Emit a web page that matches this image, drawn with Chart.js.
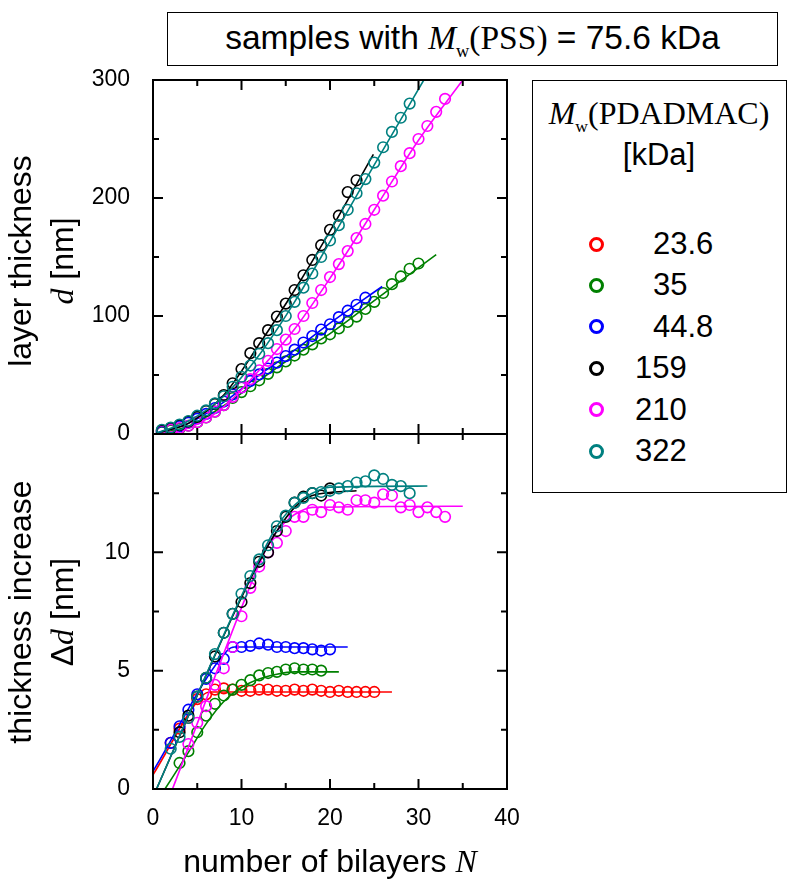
<!DOCTYPE html>
<html>
<head>
<meta charset="utf-8">
<script src="https://cdn.jsdelivr.net/npm/chart.js@4.4.0/dist/chart.umd.min.js"></script>
<style>
  html, body { margin: 0; padding: 0; background: #fff; }
  #wrap { position: relative; width: 789px; height: 886px; overflow: hidden;
          font-family: "Liberation Sans", Arial, sans-serif; color: #000; }
  canvas { position: absolute; left: 0; top: 0; }
  .box { position: absolute; border: 1.5px solid #000; box-sizing: border-box; background: #fff; z-index: 2; }
  .serif { font-family: "Liberation Serif", "Times New Roman", serif; }
  .sub { font-size: 0.55em; position: relative; top: 0.45em; }
  .ytitle { position: absolute; width: 320px; height: 84px; line-height: 42px; font-size: 32px;
            text-align: center; white-space: nowrap; transform: rotate(-90deg); z-index: 2; }
  .txt { position: absolute; white-space: nowrap; z-index: 2; }
  .dot { position: absolute; width: 9px; height: 9px; border-radius: 50%; border: 3px solid; }
</style>
</head>
<body>
<div id="wrap">
  <canvas id="top" width="789" height="886"></canvas>
  <canvas id="bottom" width="789" height="886"></canvas>

  <div class="box" style="left:167px; top:12px; width:611px; height:54px; font-size:33.5px; line-height:50px; text-align:center;">
    samples with <span class="serif"><i>M</i><span class="sub">w</span>(PSS)</span> = 75.6 kDa
  </div>

  <div class="ytitle" style="left:-119px; top:219px;">layer thickness<br><i class="serif">d</i> [nm]</div>
  <div class="ytitle" style="left:-119px; top:570px;">thickness increase<br>&Delta;<i class="serif">d</i> [nm]</div>
  <div class="txt" style="left:130px; top:843px; width:400px; text-align:center; font-size:32px;">number of bilayers <i class="serif">N</i></div>

  <div class="box" id="legend" style="left:532px; top:80px; width:255px; height:413px;"></div>
</div>

<script>
// ---- data ----
// legend: Mw(PDADMAC) in kDa
var sampleLabels = ['23.6', '35', '44.8', '159', '210', '322'];
var sampleColors = ['#ff0000', '#008000', '#0000ff', '#000000', '#ff00ff', '#008080'];

// top panel: layer thickness d [nm], first point at N = 1
var dGreen   = [1.5, 3, 4.5, 7, 10, 14, 19, 24.5, 30.5, 35.5, 40.5, 45.5, 51, 56.5, 61.5, 66.5, 71.5, 76, 81, 84.5, 89.5, 95, 99.5, 106, 112, 119.5, 127, 133.5, 140, 144.5];
var dBlue    = [2, 4, 6.5, 9.5, 13, 17, 22, 27.5, 33.5, 39.5, 45, 50.5, 55.5, 60.5, 66, 71.5, 77.5, 83, 88.5, 93, 99, 104.5, 109.5, 115.5];
var dBlack   = [3, 5, 7.5, 10.5, 14.5, 19.5, 25.5, 33, 43, 55, 68.5, 77, 88, 99.5, 110.5, 122, 134.5, 147.5, 160, 173, 185, 205, 215];
var dMagenta = [2.5, 3.5, 5, 7, 10, 14, 19, 24.5, 31.5, 39.5, 46.5, 54, 62, 72, 80, 89, 100, 111, 122, 133, 144, 155, 166, 178, 190, 202, 214, 227, 238, 250, 261, 273, 284];
var dCyan    = [3.5, 5.5, 8, 11, 15.5, 20, 26, 32, 40, 48.5, 58, 68, 77, 88, 100, 112, 124, 136, 150, 164, 177, 190, 204, 216, 230, 243, 256, 268, 280];

// top panel fit curves
var fitTopGreenN   = [0.5, 4, 8, 12, 16, 20, 25, 32];
var fitTopGreenD   = [0.5, 6.5, 24, 45.5, 66.5, 85, 113, 152];
var fitTopBlueN    = [0.5, 4, 8, 12, 16, 20, 25.9];
var fitTopBlueD    = [1, 9, 27, 50, 71, 94, 125];
var fitTopBlackN   = [1, 4, 8, 12, 16, 20, 24.9];
var fitTopBlackD   = [2, 9, 33, 76, 122, 172, 237];
var fitTopMagentaN = [1, 4, 8, 12, 16, 20, 25, 30, 35];
var fitTopMagentaD = [0.5, 5, 23, 54, 89, 132, 190, 249, 300];
var fitTopCyanN    = [0.5, 4, 8, 12, 16, 20, 25, 30.6];
var fitTopCyanD    = [1, 11, 32, 67, 112, 163, 228, 300];

// bottom panel: thickness increase Δd [nm], first N given separately
var ddRed     = [1.95, 2.55, 3.0, 3.8, 4.0, 4.2, 4.25, 4.2, 4.15, 4.15, 4.2, 4.2, 4.15, 4.15, 4.2, 4.15, 4.2, 4.15, 4.1, 4.15, 4.1, 4.1, 4.1, 4.1];
var ddGreen   = [1.1, 1.6, 2.4, 3.1, 3.6, 3.95, 4.2, 4.4, 4.6, 4.8, 4.9, 4.95, 5.05, 5.1, 5.05, 5.05, 5.0];
var ddBlue    = [1.95, 2.65, 3.35, 4.0, 4.65, 5.1, 5.5, 6.0, 6.0, 6.05, 6.15, 6.1, 6.0, 6.0, 5.95, 5.95, 5.9, 5.85, 5.9];
var ddBlack   = [2.4, 3.1, 3.9, 4.7, 5.6, 6.6, 7.4, 7.9, 8.7, 9.6, 10.0, 10.9, 11.5, 12.1, 12.35, 12.5, 12.4, 12.7];
var ddMagenta = [1.9, 2.8, 3.5, 4.4, 5.1, 6.0, 7.3, 8.5, 9.4, 10.0, 10.4, 10.9, 11.5, 11.5, 11.8, 11.7, 12.0, 11.9, 11.8, 12.2, 12.2, 12.1, 12.45, 12.4, 11.9, 12.0, 11.7, 11.9, 11.7, 11.5];
var ddCyan    = [1.7, 2.2, 3.0, 3.9, 4.7, 5.7, 6.6, 7.4, 8.25, 9.0, 9.7, 10.3, 11.1, 11.55, 12.1, 12.3, 12.5, 12.55, 12.6, 12.7, 12.8, 12.95, 13.0, 13.25, 13.1, 12.85, 12.8, 12.5];
var ddFirstN  = [2, 3, 2, 3, 4, 2];   // red, green, blue, black, magenta, cyan

// bottom panel fit curves
var fitBotRedN     = [0, 5.6, 6.5, 27];
var fitBotRedD     = [0.6, 3.95, 4.1, 4.1];
var fitBotGreenN   = [1.35, 4, 6, 8, 10, 12, 14, 16, 21];
var fitBotGreenD   = [0, 1.55, 2.75, 3.7, 4.3, 4.65, 4.85, 4.95, 4.95];
var fitBotBlueN    = [0, 8.4, 9.2, 22];
var fitBotBlueD    = [0.75, 5.85, 6.0, 6.0];
var fitBotBlackN   = [0.4, 9, 12, 14, 16, 18, 23];
var fitBotBlackD   = [0, 7.3, 9.6, 10.9, 11.9, 12.4, 12.6];
var fitBotMagentaN = [2.2, 12, 13, 14, 15, 16, 18, 35];
var fitBotMagentaD = [0, 9.5, 10.3, 10.9, 11.3, 11.6, 11.9, 11.95];
var fitBotCyanN    = [0.4, 9, 12, 14, 16, 18, 20, 31];
var fitBotCyanD    = [0, 7.35, 9.7, 11.1, 12.0, 12.5, 12.75, 12.8];

var xTickLabels = [0, 10, 20, 30, 40];
var topTickLabels = [0, 100, 200, 300];
var bottomTickLabels = [0, 5, 10];

// ---- helpers ----
function series(first, values) {
  return values.map(function (v, i) { return {x: first + i, y: v}; });
}
function pairs(xs, ys) {
  return xs.map(function (x, i) { return {x: x, y: ys[i]}; });
}
function pts(data, color) {
  return {data: data, showLine: false, pointRadius: 5.3, pointBorderWidth: 1.6,
          pointBorderColor: color, pointBackgroundColor: 'rgba(0,0,0,0)'};
}
function fit(data, color) {
  return {data: data, showLine: true, pointRadius: 0, borderColor: color, borderWidth: 1.6,
          cubicInterpolationMode: 'monotone', fill: false};
}

// frame with inward ticks on all four sides
var frame = {
  id: 'frame',
  afterDraw: function (chart, args, opts) {
    var ctx = chart.ctx, a = chart.chartArea, x = chart.scales.x, y = chart.scales.y;
    ctx.save();
    ctx.strokeStyle = '#000';
    ctx.lineWidth = 2;
    ctx.strokeRect(a.left, a.top, a.right - a.left, a.bottom - a.top);
    ctx.beginPath();
    for (var v = 5; v < 40; v += 5) {
      var px = x.getPixelForValue(v), len = v % 10 ? 6 : 10;
      ctx.moveTo(px, a.bottom); ctx.lineTo(px, a.bottom - len);
      ctx.moveTo(px, a.top); ctx.lineTo(px, a.top + len);
    }
    for (var w = opts.minor; w < y.max; w += opts.minor) {
      var py = y.getPixelForValue(w), l = (w % opts.major) ? 6 : 10;
      ctx.moveTo(a.left, py); ctx.lineTo(a.left + l, py);
      ctx.moveTo(a.right, py); ctx.lineTo(a.right - l, py);
    }
    ctx.stroke();
    ctx.restore();
  }
};

var tickFont = {family: '"Liberation Sans", Arial, sans-serif', size: 23};

function yScale(max, step, labels) {
  return {
    min: 0, max: max,
    grid: {display: false}, border: {display: false},
    ticks: {stepSize: step, padding: 15, color: '#000', font: tickFont,
            callback: function (v) { return labels.indexOf(v) >= 0 ? String(v) : ''; }},
    afterFit: function (s) { s.width = 153; }
  };
}

// ---- top panel ----
var topSets = [
  fit(pairs(fitTopCyanN, fitTopCyanD), sampleColors[5]),
  pts(series(1, dCyan), sampleColors[5]),
  fit(pairs(fitTopBlackN, fitTopBlackD), sampleColors[3]),
  pts(series(1, dBlack), sampleColors[3]),
  fit(pairs(fitTopMagentaN, fitTopMagentaD), sampleColors[4]),
  pts(series(1, dMagenta), sampleColors[4]),
  fit(pairs(fitTopBlueN, fitTopBlueD), sampleColors[2]),
  pts(series(1, dBlue), sampleColors[2]),
  fit(pairs(fitTopGreenN, fitTopGreenD), sampleColors[1]),
  pts(series(1, dGreen), sampleColors[1])
];

new Chart(document.getElementById('top'), {
  type: 'scatter',
  data: {datasets: topSets},
  options: {
    animation: false, responsive: false, events: [],
    layout: {padding: {left: 0, top: 80, right: 282, bottom: 452}},
    plugins: {legend: {display: false}, tooltip: {enabled: false}, frame: {minor: 50, major: 100}},
    scales: {
      x: {type: 'linear', min: 0, max: 40, display: false},
      y: yScale(300, 100, topTickLabels)
    }
  },
  plugins: [frame]
});

// ---- bottom panel ----
var botSets = [
  fit(pairs(fitBotCyanN, fitBotCyanD), sampleColors[5]),
  pts(series(ddFirstN[5], ddCyan), sampleColors[5]),
  fit(pairs(fitBotBlackN, fitBotBlackD), sampleColors[3]),
  pts(series(ddFirstN[3], ddBlack), sampleColors[3]),
  fit(pairs(fitBotMagentaN, fitBotMagentaD), sampleColors[4]),
  pts(series(ddFirstN[4], ddMagenta), sampleColors[4]),
  fit(pairs(fitBotBlueN, fitBotBlueD), sampleColors[2]),
  pts(series(ddFirstN[2], ddBlue), sampleColors[2]),
  fit(pairs(fitBotGreenN, fitBotGreenD), sampleColors[1]),
  pts(series(ddFirstN[1], ddGreen), sampleColors[1]),
  fit(pairs(fitBotRedN, fitBotRedD), sampleColors[0]),
  pts(series(ddFirstN[0], ddRed), sampleColors[0])
];

new Chart(document.getElementById('bottom'), {
  type: 'scatter',
  data: {datasets: botSets},
  options: {
    animation: false, responsive: false, events: [],
    layout: {padding: {left: 0, top: 434, right: 282, bottom: 0}},
    plugins: {legend: {display: false}, tooltip: {enabled: false}, frame: {minor: 2.5, major: 5}},
    scales: {
      x: {
        type: 'linear', min: 0, max: 40,
        grid: {display: false}, border: {display: false},
        ticks: {stepSize: 10, padding: 8, color: '#000', font: tickFont, maxRotation: 0,
                callback: function (v) { return xTickLabels.indexOf(v) >= 0 ? String(v) : ''; }},
        afterFit: function (s) { s.height = 97; }
      },
      y: yScale(15, 5, bottomTickLabels)
    }
  },
  plugins: [frame]
});

// ---- legend box ----
var legend = document.getElementById('legend');
legend.innerHTML =
  '<div class="txt serif" style="left:0; top:14px; width:252px; text-align:center; font-size:32px;"><i>M</i><span class="sub">w</span>(PDADMAC)</div>' +
  '<div class="txt" style="left:0; top:56px; width:252px; text-align:center; font-size:31px;">[kDa]</div>';
sampleLabels.forEach(function (lab, i) {
  var cy = 163 + i * 41.4;
  var dot = document.createElement('div');
  dot.className = 'dot';
  dot.style.left = (63 - 7.5) + 'px';
  dot.style.top = (cy - 7.5) + 'px';
  dot.style.borderColor = sampleColors[i];
  legend.appendChild(dot);
  var t = document.createElement('div');
  t.className = 'txt';
  t.style.fontSize = '31px';
  t.style.lineHeight = '36px';
  t.style.left = (lab.length > 3 || lab === '35' ? 120 : 102) + 'px';
  t.style.top = (cy - 18) + 'px';
  t.textContent = lab;
  legend.appendChild(t);
});
</script>
</body>
</html>
